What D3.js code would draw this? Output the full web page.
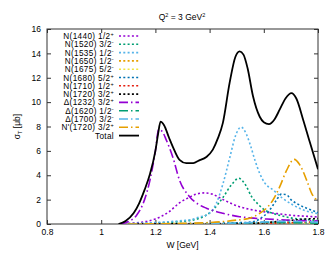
<!DOCTYPE html>
<meta charset="utf-8">
<head>
  <style>
    body { margin: 0; background: #fff; }
    svg text { font-family: "Liberation Sans", Arial, sans-serif; fill: #000; }
    .axis text { font-size: 8.5px; }
    .axis line { stroke: #333; }
    .curve { fill: none; stroke-linejoin: round; }
  </style>
</head>
<body>
  <script src="https://d3js.org/d3.v7.min.js"></script>
  <script>
    // values: [W (GeV), sigma_T (ub)]
    var xTicks = [0.8, 1, 1.2, 1.4, 1.6, 1.8];
    var yTicks = [0, 2, 4, 6, 8, 10, 12, 14, 16];

    var n1440 = [[1.10,0.05],[1.15,0.15],[1.20,0.42],[1.25,1.0],[1.29,1.75],[1.326,2.2],[1.35,2.45],[1.38,2.55],[1.41,2.45],[1.45,2.0],[1.51,1.42],[1.56,1.15],[1.60,1.0],[1.65,0.85],[1.70,0.72],[1.75,0.64],[1.80,0.58]];
    var n1520 = [[1.10,0.02],[1.20,0.08],[1.30,0.22],[1.36,0.45],[1.41,1.1],[1.45,2.2],[1.48,3.2],[1.508,3.75],[1.53,3.3],[1.555,2.25],[1.58,1.6],[1.60,1.2],[1.63,0.9],[1.66,0.7],[1.70,0.5],[1.75,0.38],[1.80,0.3]];
    var n1535 = [[1.10,0.03],[1.20,0.12],[1.30,0.28],[1.33,0.35],[1.365,0.6],[1.39,0.75],[1.425,1.7],[1.45,3.35],[1.475,5.5],[1.495,7.2],[1.516,7.95],[1.535,7.4],[1.55,6.5],[1.567,5.25],[1.585,4.15],[1.604,3.35],[1.634,2.8],[1.67,2.1],[1.708,1.56],[1.746,1.15],[1.80,0.85]];
    var n1650 = [[1.10,0],[1.50,0.03],[1.60,0.1],[1.65,0.15],[1.70,0.12],[1.80,0.08]];
    var n1675 = [[1.10,0],[1.60,0.03],[1.68,0.06],[1.80,0.05]];
    var n1680 = [[1.10,0],[1.40,0.05],[1.50,0.1],[1.55,0.15],[1.58,0.35],[1.60,0.65],[1.62,1.1],[1.645,1.9],[1.665,2.45],[1.684,2.4],[1.70,2.0],[1.72,1.7],[1.758,1.3],[1.80,0.95]];
    var n1710 = [[1.10,0],[1.60,0.03],[1.70,0.1],[1.80,0.2]];
    var n1720 = [[1.10,0],[1.50,0.03],[1.60,0.1],[1.65,0.2],[1.70,0.3],[1.75,0.4],[1.80,0.45]];
    var d1232 = [[1.07,0],[1.10,0.2],[1.13,0.7],[1.16,2.0],[1.18,3.6],[1.20,6.0],[1.212,7.75],[1.225,7.6],[1.24,6.9],[1.264,5.5],[1.289,3.6],[1.326,2.24],[1.36,1.6],[1.388,1.3],[1.449,0.88],[1.511,0.6],[1.55,0.5],[1.634,0.38],[1.70,0.3],[1.80,0.25]];
    var d1620 = [[1.10,0],[1.50,0.05],[1.60,0.12],[1.70,0.1],[1.80,0.07]];
    var d1700 = [[1.10,0],[1.50,0.08],[1.65,0.2],[1.70,0.22],[1.80,0.15]];
    var np1720 = [[1.10,0],[1.30,0.05],[1.40,0.12],[1.45,0.2],[1.50,0.32],[1.548,0.47],[1.585,0.88],[1.61,1.3],[1.634,1.97],[1.659,3.07],[1.684,4.4],[1.712,5.3],[1.733,4.85],[1.758,3.6],[1.777,2.5],[1.80,1.9]];
    var total = [[1.064,0],[1.09,0.25],[1.12,0.9],[1.14,1.7],[1.16,2.8],[1.18,4.1],[1.20,6.0],[1.21,7.4],[1.219,8.4],[1.232,8.1],[1.25,7.1],[1.264,6.35],[1.289,5.26],[1.314,4.99],[1.34,5.0],[1.36,5.2],[1.388,5.5],[1.412,6.1],[1.43,7.0],[1.449,8.3],[1.474,11.6],[1.495,13.7],[1.511,14.16],[1.525,13.9],[1.54,12.8],[1.56,10.5],[1.585,8.8],[1.60,8.35],[1.619,8.2],[1.64,8.6],[1.659,9.4],[1.68,10.3],[1.702,10.74],[1.72,10.3],[1.746,8.5],[1.77,6.7],[1.80,4.5]];

    var names = ["N(1440) 1/2", "N(1520) 3/2", "N(1535) 1/2", "N(1650) 1/2", "N(1675) 5/2", "N(1680) 5/2",
      "N(1710) 1/2", "N(1720) 3/2", "Δ(1232) 3/2", "Δ(1620) 1/2", "Δ(1700) 3/2", "N'(1720) 3/2", "Total"];
    var parities = ["+", "-", "-", "-", "-", "+", "+", "+", "+", "-", "-", "+", ""];
    var seriesData = [n1440, n1520, n1535, n1650, n1675, n1680, n1710, n1720, d1232, d1620, d1700, np1720, total];

    // styles
    var colors = ["#9400d3", "#009e73", "#56b4e9", "#e69f00", "#f0e442", "#0072b2", "#e51e10", "#000000",
      "#9400d3", "#009e73", "#56b4e9", "#e69f00", "#000000"];
    var dotted = "2,2.3", dashdot = "9,3,1.5,3";
    var dashes = [dotted, dotted, dotted, dotted, dotted, dotted, dotted, dotted, dashdot, dashdot, dashdot, dashdot, null];

    var margin = { top: 29, right: 14, bottom: 33, left: 47 },
      W = 332, H = 257,
      x0 = margin.left, x1 = W - margin.right,
      y0 = margin.top, y1 = H - margin.bottom;

    var svg = d3.select("body").append("svg")
      .attr("width", W)
      .attr("height", H);

    var x = d3.scaleLinear().domain([0.8, 1.8]).range([x0, x1]);
    var y = d3.scaleLinear().domain([0, 16]).range([y1, y0]);

    svg.append("defs").append("clipPath").attr("id", "clip")
      .append("rect")
      .attr("x", x0).attr("y", y0)
      .attr("width", x1 - x0).attr("height", y1 - y0);

    // axes, ticks pointing inward on all four sides
    svg.append("g").attr("class", "axis")
      .attr("transform", "translate(0," + y1 + ")")
      .call(d3.axisBottom(x).tickValues(xTicks).tickSizeInner(-4).tickSizeOuter(0).tickPadding(5)
        .tickFormat(function (d) { return d3.format("")(d); }));
    svg.append("g").attr("class", "axis")
      .attr("transform", "translate(0," + y0 + ")")
      .call(d3.axisTop(x).tickValues(xTicks).tickSizeInner(-4).tickSizeOuter(0).tickFormat(""));
    svg.append("g").attr("class", "axis")
      .attr("transform", "translate(" + x0 + ",0)")
      .call(d3.axisLeft(y).tickValues(yTicks).tickSizeInner(-4).tickSizeOuter(0).tickPadding(6));
    svg.append("g").attr("class", "axis")
      .attr("transform", "translate(" + x1 + ",0)")
      .call(d3.axisRight(y).tickValues(yTicks).tickSizeInner(-4).tickSizeOuter(0).tickFormat(""));
    svg.selectAll(".axis .domain").remove();

    svg.append("rect")
      .attr("x", x0).attr("y", y0)
      .attr("width", x1 - x0).attr("height", y1 - y0)
      .attr("fill", "none").attr("stroke", "#333").attr("stroke-width", 1);

    var line = d3.line()
      .x(function (d) { return x(d[0]); })
      .y(function (d) { return y(d[1]); })
      .curve(d3.curveMonotoneX);

    svg.append("g").attr("clip-path", "url(#clip)")
      .selectAll("path")
      .data(seriesData)
      .enter().append("path")
      .attr("class", "curve")
      .attr("d", line)
      .attr("stroke", function (d, i) { return colors[i]; })
      .attr("stroke-width", function (d, i) { return i == 12 ? 1.8 : 1.6; })
      .attr("stroke-dasharray", function (d, i) { return dashes[i]; });

    // legend
    var legend = svg.append("g")
      .selectAll("g")
      .data(names)
      .enter().append("g")
      .attr("transform", function (d, i) { return "translate(0," + (36 + i * 8.3) + ")"; });

    var lt = legend.append("text")
      .attr("x", 114)
      .attr("y", 3)
      .attr("text-anchor", "end")
      .style("font-size", "8.2px")
      .style("letter-spacing", "0.35px");
    lt.append("tspan").text(function (d) { return d; });
    lt.append("tspan")
      .attr("dy", -3)
      .style("font-size", "5.5px")
      .text(function (d, i) { return parities[i]; });

    legend.append("line")
      .attr("x1", 119).attr("x2", 139)
      .attr("y1", 0).attr("y2", 0)
      .attr("stroke", function (d, i) { return colors[i]; })
      .attr("stroke-width", function (d, i) { return i == 12 ? 1.8 : 1.6; })
      .attr("stroke-dasharray", function (d, i) { return dashes[i]; });

    // title
    var title = svg.append("text")
      .attr("x", 182)
      .attr("y", 20)
      .attr("text-anchor", "middle")
      .style("font-size", "8.5px");
    title.append("tspan").text("Q");
    title.append("tspan").attr("dy", -3).style("font-size", "5.5px").text("2");
    title.append("tspan").attr("dy", 3).text(" = 3 GeV");
    title.append("tspan").attr("dy", -3).style("font-size", "5.5px").text("2");

    // axis labels
    svg.append("text")
      .attr("x", (x0 + x1) / 2)
      .attr("y", 248)
      .attr("text-anchor", "middle")
      .style("font-size", "8.5px")
      .text("W [GeV]");

    var yl = svg.append("text")
      .attr("transform", "translate(20," + ((y0 + y1) / 2) + ") rotate(-90)")
      .attr("text-anchor", "middle")
      .style("font-size", "8.5px");
    yl.append("tspan").text("σ");
    yl.append("tspan").attr("dy", 2).style("font-size", "5.5px").text("T");
    yl.append("tspan").attr("dy", -2).text(" [μb]");
  </script>
</body>
